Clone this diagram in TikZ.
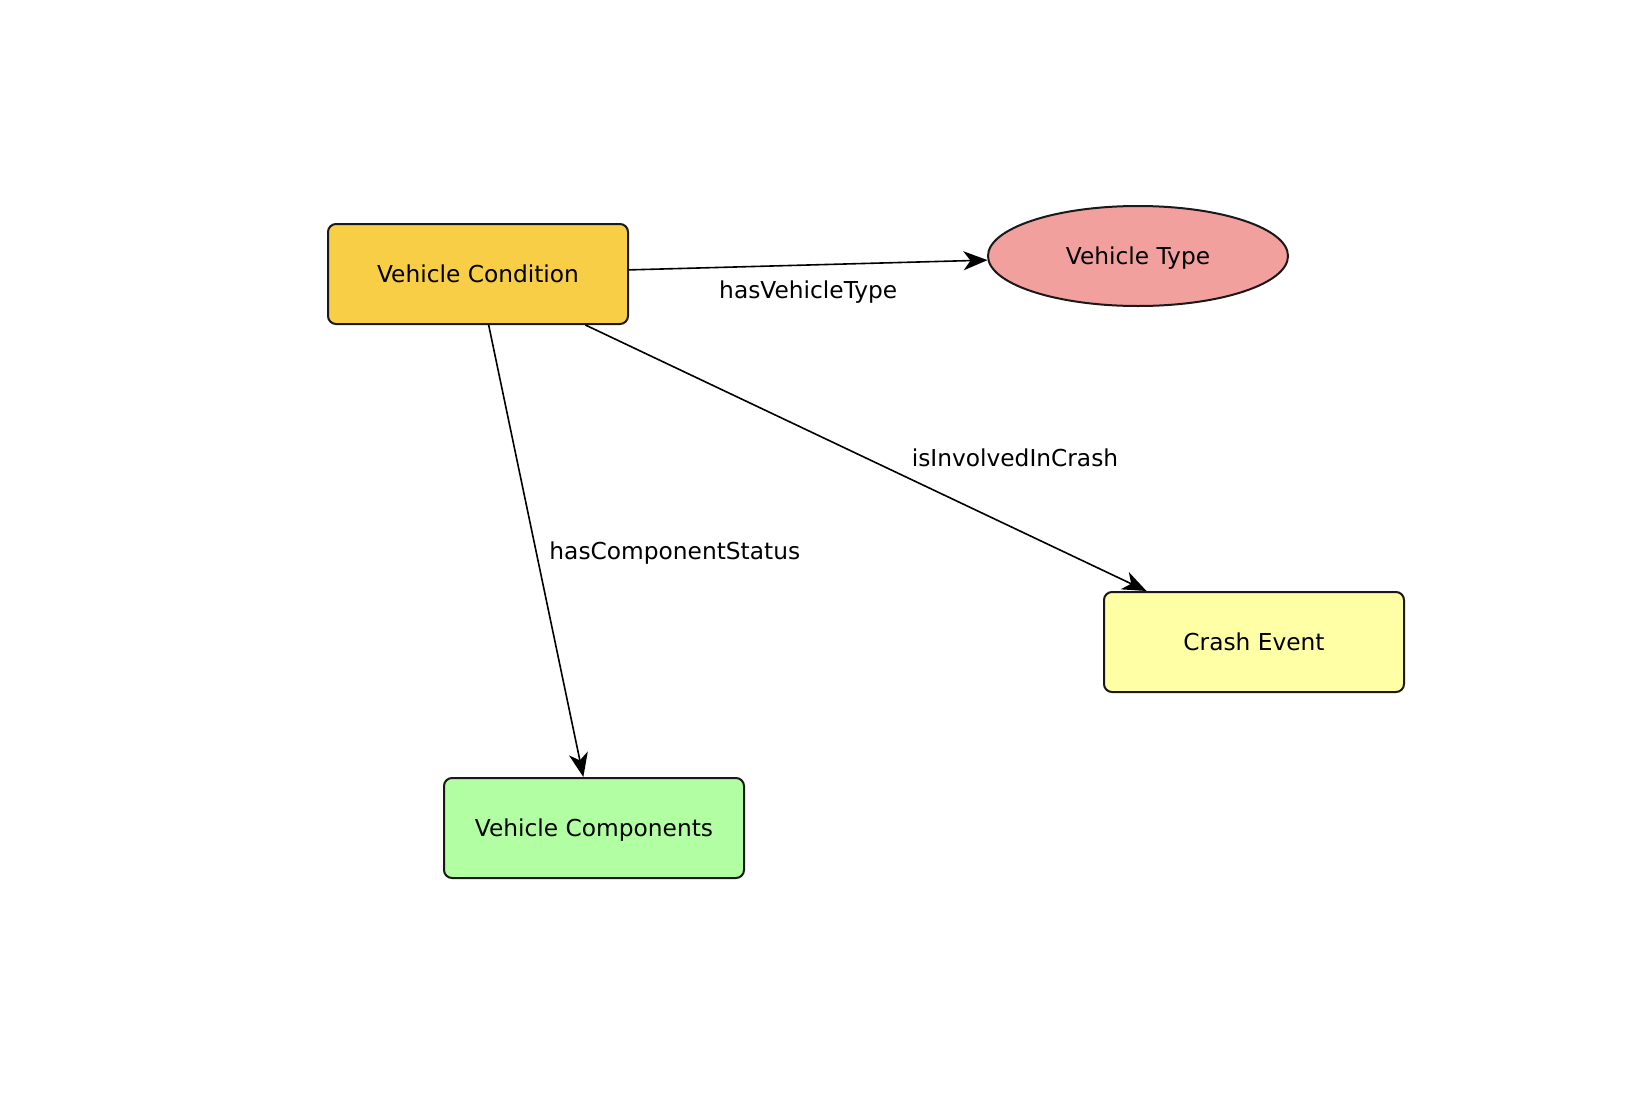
\documentclass[tikz,border=0pt]{standalone}
\usepackage{fontspec}
\setmainfont{DejaVu Sans}
\usetikzlibrary{shapes.geometric,arrows.meta}
\definecolor{condfill}{RGB}{248,206,70}
\definecolor{typefill}{RGB}{242,160,158}
\definecolor{crashfill}{RGB}{255,255,166}
\definecolor{compfill}{RGB}{178,255,163}

\begin{document}
\begin{tikzpicture}[x=0.5pt, y=-0.5pt,
	every node/.style={font=\fontsize{11.65}{14}\selectfont, text depth=0pt},
	classbox/.style={draw=black!90, line width=1pt, rounded corners=4pt, minimum width=150pt, minimum height=50pt},
	classoval/.style={draw=black!90, line width=1pt, ellipse, minimum width=150pt, minimum height=50pt},
	rel/.style={-{Stealth[length=12pt, width=9.5pt, inset=3.5pt]}, line width=0.8pt}]
	\useasboundingbox (0,0) rectangle (1630,1098);
	\node[classbox, fill=condfill] (cond) at (478,274) {Vehicle Condition};
	\node[classoval, fill=typefill] (type) at (1138,256) {Vehicle Type};
	\node[classbox, fill=crashfill] (crash) at (1254,642) {Crash Event};
	\node[classbox, fill=compfill] (comp) at (594,828) {Vehicle Components};
	\draw[rel] (cond) -- node[midway, yshift=-12.5pt]{hasVehicleType} (type);
	\draw[rel] (cond) -- node[midway, right=3pt]{hasComponentStatus} (comp);
	\draw[rel] (cond) -- node[midway, xshift=74.5pt]{isInvolvedInCrash} (crash);
\end{tikzpicture}
\end{document}
